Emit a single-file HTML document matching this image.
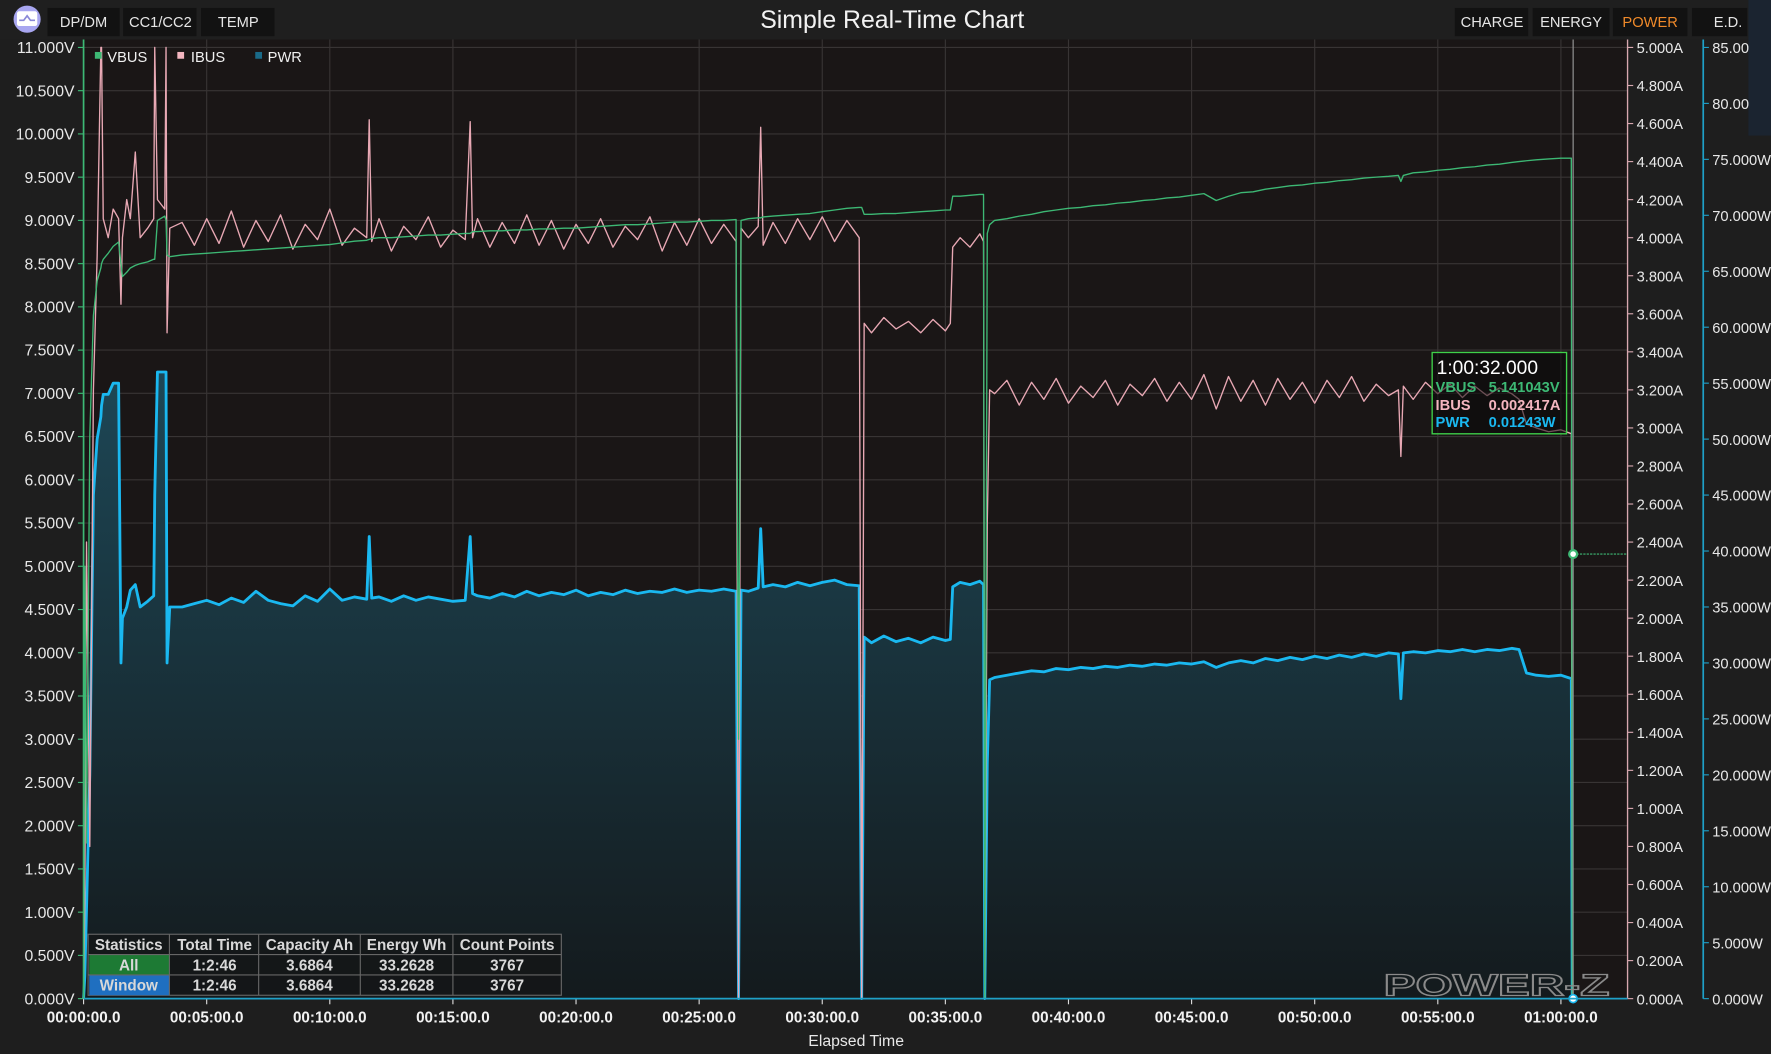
<!DOCTYPE html>
<html><head><meta charset="utf-8"><style>
html,body{margin:0;padding:0;background:#1e1e1e;width:1771px;height:1054px;overflow:hidden}
svg{display:block;font-family:"Liberation Sans",Arial,sans-serif}
</style></head><body>
<svg id="chart" width="1771" height="1054" viewBox="0 0 1568 933" preserveAspectRatio="none" xmlns="http://www.w3.org/2000/svg">
<defs>
<linearGradient id="pwrFill" x1="0" y1="0" x2="0" y2="1">
<stop offset="0" stop-color="#1d4756"/><stop offset="1" stop-color="#141a1d"/>
</linearGradient>
</defs>
<rect x="0" y="0" width="1568" height="933" fill="#1e1e1e"/>
<rect x="0" y="0" width="1568" height="35" fill="#1f1f1f"/>
<circle cx="24" cy="17" r="12" fill="#a8a6f0"/>
<rect x="15" y="10" width="18" height="13" rx="2" fill="#fff"/>
<path d="M17 18 L21 18 L24 14 L27 18 L31 18" stroke="#8a88d8" stroke-width="1.5" fill="none"/>
<g font-size="13" fill="#e6e6e6" text-anchor="middle">
<rect x="42" y="7" width="64" height="25" fill="#121212"/><text x="74" y="24">DP/DM</text>
<rect x="109" y="7" width="65" height="25" fill="#121212"/><text x="142" y="24">CC1/CC2</text>
<rect x="178" y="7" width="65" height="25" fill="#121212"/><text x="211" y="24">TEMP</text>
<rect x="1288" y="7" width="65" height="25" fill="#121212"/><text x="1321" y="24">CHARGE</text>
<rect x="1357" y="7" width="68" height="25" fill="#121212"/><text x="1391" y="24">ENERGY</text>
<rect x="1428" y="7" width="66" height="25" fill="#121212"/><text x="1461" y="24" fill="#f08a2a">POWER</text>
<rect x="1498" y="7" width="49" height="25" fill="#121212"/><text x="1530" y="24">E.D.</text>
</g>
<rect x="1548" y="0" width="20" height="120" fill="#1b2430"/>
<text x="790" y="25" font-size="22" fill="#f2f2f2" text-anchor="middle">Simple Real-Time Chart</text>
<rect x="74" y="35" width="1367" height="849" fill="#1a1616"/>
<g id="grid"></g>
<g id="series"></g>
<g id="axes"></g>
</svg>
<script>
const times=[0,0.05,0.12,0.25,0.4,0.55,0.7,0.73,0.8,1.0,1.2,1.42,1.52,1.58,1.75,1.9,2.1,2.3,2.6,2.85,2.89,3.0,3.3,3.35,3.39,3.5,
4,4.5,5,5.5,6,6.5,7,7.5,8,8.5,9,9.5,10,10.5,11,11.5,11.6,11.7,12,12.5,13,13.5,14,14.5,15,15.5,15.7,15.8,16,16.5,17,17.5,18,18.5,19,19.5,20,20.5,21,21.5,22,22.5,23,23.5,24,24.5,25,25.5,26,26.5,26.6,26.7,27,27.4,27.5,27.6,28,28.5,29,29.5,30,30.5,31,31.5,31.6,31.7,32,32.5,33,33.5,34,34.5,35,35.2,35.3,35.6,36,36.4,36.55,36.6,36.7,36.8,37,
37.5,38,38.5,39,39.5,40,40.5,41,41.5,42,42.5,43,43.5,44,44.5,45,45.5,46,46.5,47,47.5,48,48.5,49,49.5,50,50.5,51,51.5,52,52.5,53,53.4,53.5,53.6,54,54.5,55,55.5,56,56.5,57,57.5,58,58.3,58.6,59,59.5,60,60.42,60.46];
const vbus=[0,5.0,1.8,6.5,7.9,8.3,8.45,8.5,8.55,8.62,8.7,8.75,8.5,8.35,8.4,8.45,8.48,8.5,8.52,8.55,8.55,9.0,9.05,9.0,8.6,8.58,
8.6,8.61,8.62,8.63,8.64,8.65,8.66,8.67,8.68,8.69,8.7,8.71,8.72,8.74,8.76,8.77,8.78,8.79,8.8,8.8,8.81,8.82,8.83,8.83,8.84,8.85,8.85,8.87,8.87,8.88,8.88,8.89,8.89,8.9,8.9,8.91,8.91,8.92,8.93,8.94,8.95,8.95,8.96,8.97,8.98,8.98,8.99,9.0,9.0,9.01,3.0,9.0,9.02,9.03,9.03,9.04,9.05,9.06,9.07,9.08,9.1,9.12,9.14,9.15,9.15,9.07,9.07,9.08,9.08,9.09,9.1,9.11,9.12,9.12,9.28,9.28,9.29,9.3,9.3,0,8.85,8.95,9.0,
9.02,9.05,9.07,9.1,9.12,9.14,9.15,9.17,9.18,9.2,9.21,9.23,9.24,9.26,9.27,9.29,9.31,9.23,9.28,9.32,9.33,9.36,9.38,9.4,9.41,9.43,9.44,9.46,9.47,9.49,9.5,9.51,9.52,9.45,9.52,9.55,9.56,9.58,9.59,9.61,9.62,9.64,9.65,9.67,9.68,9.69,9.7,9.71,9.72,9.72,0];
const ibus=[0,0.5,2.4,0.8,3.2,3.9,5.0,5.0,4.1,4.0,4.15,4.1,3.65,4.0,4.2,4.1,4.45,4.0,4.05,4.1,5.0,4.2,4.15,5.0,3.5,4.05,
4.08,3.96,4.1,3.97,4.14,3.95,4.09,3.98,4.12,3.94,4.07,3.99,4.15,3.96,4.05,4.0,4.62,3.98,4.1,3.93,4.06,3.99,4.11,3.95,4.04,3.99,4.61,4.0,4.1,3.95,4.08,3.97,4.12,3.96,4.09,3.94,4.07,3.97,4.1,3.95,4.06,3.99,4.11,3.93,4.08,3.96,4.1,3.97,4.07,3.98,0,4.05,4.0,4.06,4.58,3.96,4.08,3.97,4.1,3.99,4.11,3.98,4.09,4.0,0,3.55,3.5,3.58,3.52,3.56,3.5,3.57,3.51,3.55,3.95,4.0,3.95,4.02,3.98,0,2.5,3.2,3.18,
3.25,3.12,3.24,3.15,3.26,3.13,3.22,3.16,3.25,3.12,3.23,3.17,3.26,3.14,3.24,3.15,3.28,3.1,3.27,3.14,3.25,3.12,3.26,3.15,3.24,3.13,3.25,3.16,3.27,3.14,3.23,3.17,3.2,2.85,3.22,3.15,3.24,3.18,3.23,3.16,3.22,3.17,3.21,3.18,3.15,3.02,3.0,2.98,2.99,2.97,0];
const pwr=[0,2,8,20,45,50,52,53,54,54,55,55,30,34,35,36.5,37,35,35.5,36,45,56,56,56,30,35,
35,35.3,35.6,35.2,35.8,35.4,36.4,35.6,35.3,35.1,36,35.5,36.6,35.6,35.9,35.7,41.3,35.8,35.9,35.5,36,35.6,35.9,35.7,35.5,35.6,41.3,36.2,36,35.8,36.2,35.9,36.4,36,36.3,36.1,36.5,36,36.3,36.1,36.5,36.2,36.4,36.3,36.6,36.3,36.5,36.4,36.6,36.4,0,36.5,36.4,36.7,42,36.8,37,36.8,37.2,36.9,37.2,37.4,37,36.9,0,32.3,31.8,32.4,31.9,32.2,31.8,32.3,32,32.1,36.8,37.2,37,37.3,37,0,21,28.5,28.7,
28.9,29.1,29.3,29.2,29.5,29.4,29.6,29.5,29.7,29.6,29.8,29.7,29.9,29.8,30,29.9,30.1,29.6,30,30.2,30,30.4,30.2,30.5,30.3,30.6,30.4,30.7,30.5,30.8,30.6,30.9,30.8,26.8,30.9,31,30.9,31.1,31,31.2,31,31.2,31.1,31.3,31.2,29.1,28.9,28.8,28.9,28.6,0];
const voltTicks=[0,0.5,1,1.5,2,2.5,3,3.5,4,4.5,5,5.5,6,6.5,7,7.5,8,8.5,9,9.5,10,10.5,11];
const ampTicks=[0,0.2,0.4,0.6,0.8,1,1.2,1.4,1.6,1.8,2,2.2,2.4,2.6,2.8,3,3.2,3.4,3.6,3.8,4,4.2,4.4,4.6,4.8,5];
const wattTicks=[0,5,10,15,20,25,30,35,40,45,50,55,60,65,70,75,80,85];
const timeTicks=[0,5,10,15,20,25,30,35,40,45,50,55,60];
const timeLabels=["00:00:00.0","00:05:00.0","00:10:00.0","00:15:00.0","00:20:00.0","00:25:00.0","00:30:00.0","00:35:00.0","00:40:00.0","00:45:00.0","00:50:00.0","00:55:00.0","01:00:00.0"];
const cursorTime=60.45, cursorV=5.141043;

const L=74,R=1441,T=35,B=884;
const xS=t=>L+t*(1308/60);
const yV=v=>B-v*(842/11);
const yA=a=>B-a*(842/5);
const yW=w=>B-w*(842/85);
const NS='http://www.w3.org/2000/svg';
function mk(tag,attrs,parent,txt){const e=document.createElementNS(NS,tag);for(const k in attrs)e.setAttribute(k,attrs[k]);if(txt!==undefined)e.textContent=txt;parent.appendChild(e);return e;}
const grid=document.getElementById('grid'),ser=document.getElementById('series'),axes=document.getElementById('axes');

voltTicks.forEach(v=>{const y=yV(v);
 const g=mk('line',{x1:L,x2:R,y1:y,y2:y,stroke:'#383434','stroke-width':1},grid);
 
 
 mk('line',{x1:L-5,x2:L,y1:y,y2:y,stroke:'#3db874'},axes);
 const t=mk('text',{x:L-8,y:y+5,'font-size':14,fill:'#e8e8e8','text-anchor':'end'},axes,v.toFixed(3)+'V');
 
 
});
timeTicks.forEach((m,i)=>{const x=xS(m);
 const g=mk('line',{x1:x,x2:x,y1:T,y2:B,stroke:'#383434'},grid);
 
 
 mk('line',{x1:x,x2:x,y1:B,y2:B+5,stroke:'#ddd'},axes);
 const t=mk('text',{x:x,y:905,'font-size':13.5,'font-weight':'bold',fill:'#f2f2f2','text-anchor':'middle'},axes,timeLabels[i]);
 
 
});
ampTicks.forEach(a=>{const y=yA(a);
 mk('line',{x1:R,x2:R+5,y1:y,y2:y,stroke:'#d8a8b0'},axes);
 const t=mk('text',{x:R+8,y:y+5,'font-size':13,fill:'#e8e8e8'},axes,a.toFixed(3)+'A');
 
 
});
wattTicks.forEach(w=>{const y=yW(w);
 mk('line',{x1:1508,x2:1513,y1:y,y2:y,stroke:'#1ea0c8'},axes);
 const t=mk('text',{x:1516,y:y+5,'font-size':13,fill:'#e8e8e8'},axes,w>=80?w.toFixed(2):w.toFixed(3)+'W');
 
 
});
mk('line',{x1:L,x2:L,y1:T,y2:B,stroke:'#3db874','stroke-width':1.5},axes);
mk('line',{x1:R,x2:R,y1:T,y2:B,stroke:'#d8a8b0','stroke-width':1.2},axes);
mk('line',{x1:1508,x2:1508,y1:T,y2:B,stroke:'#1ea0c8','stroke-width':1.5},axes);
mk('line',{x1:L,x2:R,y1:B,y2:B,stroke:'#1ea0c8','stroke-width':1.5},axes);
const xt=mk('text',{x:758,y:926,'font-size':14,fill:'#e8e8e8','text-anchor':'middle'},axes,'Elapsed Time');



let pd='M'+xS(times[0])+','+B;
times.forEach((t,i)=>{pd+=' L'+xS(t).toFixed(1)+','+yW(pwr[i]).toFixed(1);});
pd+=' L'+xS(times[times.length-1])+','+B+' Z';
const area=mk('path',{d:pd,fill:'url(#pwrFill)'},ser);


function line(arr,fn,col,w,name){let d='';times.forEach((t,i)=>{d+=(i?' L':'M')+xS(t).toFixed(1)+','+Math.max(T,fn(arr[i])).toFixed(1);});
 const p=mk('path',{d:d,fill:'none',stroke:col,'stroke-width':w,'stroke-linejoin':'round'},ser);
 
 }
line(pwr,yW,'#1ab8f0',2.5,'pwr-line');
line(ibus,yA,'#e8a8b4',1.2,'ibus-line');
line(vbus,yV,'#3db874',1.2,'vbus-line');

const cx=xS(cursorTime)+1, cy=yV(cursorV);
mk('line',{x1:cx,x2:cx,y1:T,y2:B,stroke:'#9a9a9a','stroke-width':1},ser);
mk('line',{x1:cx,x2:R,y1:cy,y2:cy,stroke:'#3db874','stroke-width':1,'stroke-dasharray':'2,1'},ser);
const cd=mk('circle',{cx:cx,cy:cy,r:3.5,fill:'#fff',stroke:'#3db874','stroke-width':2},ser);


mk('circle',{cx:cx,cy:B,r:3.5,fill:'#fff',stroke:'#1ab8f0','stroke-width':1.5},ser);
</script>
<svg style="position:absolute;left:0;top:0" width="1771" height="1054" viewBox="0 0 1568 933" preserveAspectRatio="none">
<g font-size="13" fill="#f0f0f0">
<rect x="84" y="46" width="6" height="6" fill="#3db874"/><text x="95" y="55">VBUS</text>
<rect x="157" y="46" width="6" height="6" fill="#f4b6c0"/><text x="169" y="55">IBUS</text>
<rect x="226" y="46" width="6" height="6" fill="#1a6a88"/><text x="237" y="55">PWR</text>
</g>
<g font-weight="bold">
<rect x="1268" y="312" width="119" height="72" fill="rgba(10,10,10,0.55)" stroke="#3fd04a" stroke-width="1.2"/>
<text x="1272" y="331" font-size="17" font-weight="normal" fill="#fff">1:00:32.000</text>
<text x="1271" y="347" font-size="13" fill="#3db874">VBUS</text><text x="1318" y="347" font-size="13" fill="#3db874">5.141043V</text>
<text x="1271" y="363" font-size="13" fill="#f4b6c0">IBUS</text><text x="1318" y="363" font-size="13" fill="#f4b6c0">0.002417A</text>
<text x="1271" y="378" font-size="13" fill="#1ab8f0">PWR</text><text x="1318" y="378" font-size="13" fill="#1ab8f0">0.01243W</text>
</g>
<g font-size="13.5" font-weight="bold" fill="#d8d8d8" text-anchor="middle">
<rect x="78" y="827" width="419" height="54" fill="rgba(20,20,20,0.6)" stroke="#666"/>
<rect x="79" y="845" width="71" height="18" fill="#1d7a34"/>
<rect x="79" y="863" width="71" height="18" fill="#1f6fc0"/>
<line x1="78" x2="497" y1="845" y2="845" stroke="#666"/><line x1="78" x2="497" y1="863" y2="863" stroke="#666"/>
<line x1="150" x2="150" y1="827" y2="881" stroke="#666"/><line x1="229" x2="229" y1="827" y2="881" stroke="#666"/>
<line x1="319" x2="319" y1="827" y2="881" stroke="#666"/><line x1="401" x2="401" y1="827" y2="881" stroke="#666"/>
<text x="114" y="841">Statistics</text><text x="190" y="841">Total Time</text><text x="274" y="841">Capacity Ah</text><text x="360" y="841">Energy Wh</text><text x="449" y="841">Count Points</text>
<text x="114" y="859">All</text><text x="190" y="859">1:2:46</text><text x="274" y="859">3.6864</text><text x="360" y="859">33.2628</text><text x="449" y="859">3767</text>
<text x="114" y="877">Window</text><text x="190" y="877">1:2:46</text><text x="274" y="877">3.6864</text><text x="360" y="877">33.2628</text><text x="449" y="877">3767</text>
</g>
<text x="1225" y="881" font-size="27" font-weight="bold" fill="none" stroke="#8a8a8a" stroke-width="1.2" textLength="200" lengthAdjust="spacingAndGlyphs">POWER-Z</text>
</svg>
</body></html>
